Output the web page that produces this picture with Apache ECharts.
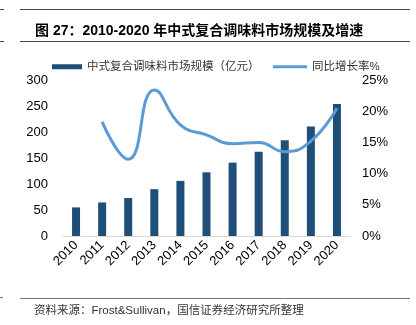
<!DOCTYPE html>
<html><head><meta charset="utf-8">
<script src="https://cdn.jsdelivr.net/npm/echarts@6/dist/echarts.min.js"></script>
<style>html,body{margin:0;padding:0;background:#fff}#c{width:416px;height:325px}</style>
</head><body><div id="c"></div>
<script>
var categories = ['2010','2011','2012','2013','2014','2015','2016','2017','2018','2019','2020'];
var marketSize = [55, 64.5, 73, 90, 106, 122.5, 141, 162, 184, 210.5, 254];
var growthRate = [null, 18.3, 12.3, 23.4, 17.8, 16.2, 14.8, 15.0, 13.5, 15.2, 20.5];
var leftTicks = [0, 300, 50];
var rightTicks = [0, 25, 5];
var barName = '中式复合调味料市场规模（亿元）';
var lineName = '同比增长率%';
var titleText = '图 27：2010-2020 年中式复合调味料市场规模及增速';
var sourceText = '资料来源：Frost&Sullivan，国信证券经济研究所整理';

var FONT = "'Liberation Sans', 'Noto Sans CJK SC', sans-serif";
var chart = echarts.init(document.getElementById('c'), null, {renderer: 'canvas'});
chart.setOption({
  animation: false,
  backgroundColor: '#fff',
  textStyle: {fontFamily: FONT},
  title: [
    {text: titleText, left: 30, top: 19, textStyle: {fontSize: 14, fontWeight: 'bold', color: '#000', fontFamily: FONT}},
    {text: sourceText, left: 29, top: 300, textStyle: {fontSize: 11.5, fontWeight: 'normal', color: '#333', fontFamily: FONT}}
  ],
  legend: [
    {data: [barName], left: 47, top: 56, icon: 'rect', itemWidth: 30, itemHeight: 5, itemGap: 5,
     textStyle: {fontSize: 11.5, color: '#333', fontFamily: FONT}},
    {data: [lineName], left: 268, top: 56, icon: 'rect', itemWidth: 34, itemHeight: 3,
     textStyle: {fontSize: 11.5, color: '#333', fontFamily: FONT}}
  ],
  grid: {left: 63, right: 66, top: 80, bottom: 89, containLabel: false},
  xAxis: {
    type: 'category', data: categories,
    axisLine: {show: true, lineStyle: {color: '#d9d9d9', width: 1}},
    axisTick: {show: false},
    axisLabel: {rotate: 45, fontSize: 13, color: '#000', margin: 7, fontFamily: FONT}
  },
  yAxis: [
    {type: 'value', min: leftTicks[0], max: leftTicks[1], interval: leftTicks[2],
     axisLine: {show: false}, axisTick: {show: false}, splitLine: {show: false},
     axisLabel: {fontSize: 13, color: '#000', margin: 15, fontFamily: FONT}},
    {type: 'value', min: rightTicks[0], max: rightTicks[1], interval: rightTicks[2],
     axisLine: {show: false}, axisTick: {show: false}, splitLine: {show: false},
     axisLabel: {fontSize: 13, color: '#000', margin: 12, formatter: '{value}%', fontFamily: FONT}}
  ],
  series: [
    {name: barName, type: 'bar', data: marketSize, barWidth: 8,
     itemStyle: {color: '#1F4E79'}},
    {name: lineName, type: 'line', yAxisIndex: 1, data: growthRate, smooth: 0.5,
     showSymbol: false, symbol: 'none', connectNulls: false,
     lineStyle: {color: '#5B9BD5', width: 3}, itemStyle: {color: '#5B9BD5'}}
  ],
  graphic: [
    {type: 'line', shape: {x1: 20, y1: 9.5, x2: 410, y2: 9.5}, style: {stroke: '#444', lineWidth: 1}},
    {type: 'line', shape: {x1: 0, y1: 9.5, x2: 4, y2: 9.5}, style: {stroke: '#444', lineWidth: 1}},
    {type: 'line', shape: {x1: 20, y1: 41.5, x2: 410, y2: 41.5}, style: {stroke: '#444', lineWidth: 1}},
    {type: 'line', shape: {x1: 0, y1: 41.5, x2: 4, y2: 41.5}, style: {stroke: '#444', lineWidth: 1}},
    {type: 'line', shape: {x1: 20, y1: 298.5, x2: 410, y2: 298.5}, style: {stroke: '#777', lineWidth: 1}},
    {type: 'line', shape: {x1: 0, y1: 297.5, x2: 3, y2: 297.5}, style: {stroke: '#777', lineWidth: 1}}
  ]
});
</script></body></html>
